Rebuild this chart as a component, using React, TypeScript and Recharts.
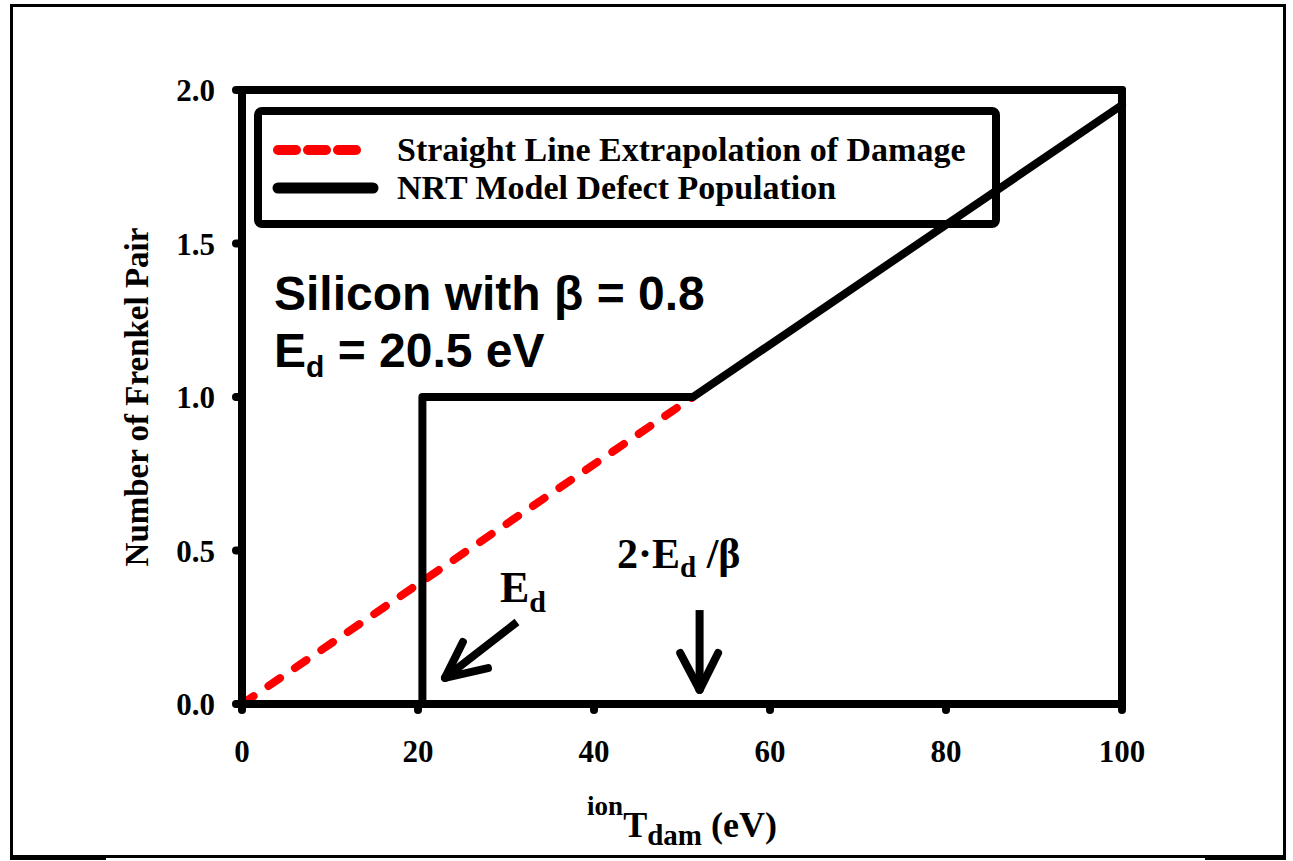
import React from 'react';
import { LineChart, Line, XAxis, YAxis, ReferenceLine } from 'recharts';

const serif = '"Liberation Serif", "Times New Roman", serif';
const sans = '"Liberation Sans", Arial, sans-serif';

// NRT model: zero below Ed, one pair up to 2Ed/beta, then beta*T/(2Ed)
const nrtEnergy = [0, 20.5, 20.5, 51.25, 100];
const nrtPairs = [0, 0, 1, 1, 1.951];

// straight line extrapolation through the origin
const extrapEnergy = [0, 51.25];
const extrapPairs = [0, 1];

const energyTicks = [0, 20, 40, 60, 80, 100];
const pairTicks = [0, 0.5, 1.0, 1.5, 2.0];

const nrtData = nrtEnergy.map((energy, i) => ({ energy, pairs: nrtPairs[i] }));
const extrapData = extrapEnergy.map((energy, i) => ({ energy, pairs: extrapPairs[i] }));

// arrows pointing at Ed and 2Ed/beta (data coordinates)
const edArrow = [
  { x: 31.25, y: 0.267 },
  { x: 23.07, y: 0.085 },
];
const edHead = [
  { x: 25.1, y: 0.202 },
  { x: 23.07, y: 0.085 },
  { x: 27.95, y: 0.117 },
];
const nrtArrow = [
  { x: 52, y: 0.306 },
  { x: 52, y: 0.046 },
];
const nrtHead = [
  { x: 49.8, y: 0.166 },
  { x: 52, y: 0.046 },
  { x: 54.1, y: 0.166 },
];

const legendItems = [
  { name: 'Straight Line Extrapolation of Damage', color: '#ff0000', dash: true },
  { name: 'NRT Model Defect Population', color: '#000000', dash: false },
];

const tickStyle = { fill: '#000', fontSize: 31, fontWeight: 'bold', fontFamily: serif };

const App = () => {
  return (
    <div style={{ position: 'absolute', left: 0, top: 0, width: 1293, height: 861, background: '#fff' }}>
      <div
        style={{
          position: 'absolute',
          left: 10,
          top: 4,
          width: 1276,
          height: 854,
          border: '3px solid #000',
          boxSizing: 'border-box',
        }}
      />
      <div style={{ position: 'absolute', left: 10, top: 855, width: 96, height: 5, background: '#000' }} />
      <div style={{ position: 'absolute', left: 1205, top: 855, width: 81, height: 5, background: '#000' }} />
      <LineChart
        width={1293}
        height={861}
        margin={{ top: 90, right: 171, bottom: 97, left: 182 }}
        style={{ position: 'absolute', left: 0, top: 0 }}
      >
        <XAxis
          dataKey="energy"
          type="number"
          domain={[0, 100]}
          ticks={energyTicks}
          height={60}
          tick={tickStyle}
          tickSize={6}
          tickMargin={30}
          axisLine={{ stroke: '#000', strokeWidth: 8, strokeLinecap: 'round' }}
          tickLine={{ stroke: '#000', strokeWidth: 8, strokeLinecap: 'round' }}
        />
        <YAxis
          type="number"
          domain={[0, 2]}
          ticks={pairTicks}
          width={60}
          tick={tickStyle}
          tickFormatter={(v: number) => v.toFixed(1)}
          tickSize={6}
          tickMargin={21}
          axisLine={{ stroke: '#000', strokeWidth: 8, strokeLinecap: 'round' }}
          tickLine={{ stroke: '#000', strokeWidth: 8, strokeLinecap: 'round' }}
        />
        <ReferenceLine y={2} stroke="#000" strokeWidth={8} strokeLinecap="round" />
        <ReferenceLine x={100} stroke="#000" strokeWidth={8} strokeLinecap="round" />

        <Line
          data={extrapData}
          dataKey="pairs"
          type="linear"
          stroke="#ff0000"
          strokeWidth={8}
          strokeDasharray="14 18"
          strokeLinecap="round"
          dot={false}
          isAnimationActive={false}
        />
        <Line
          data={nrtData}
          dataKey="pairs"
          type="linear"
          stroke="#000"
          strokeWidth={8}
          strokeLinejoin="round"
          strokeLinecap="round"
          dot={false}
          isAnimationActive={false}
        />

        <ReferenceLine segment={edArrow} stroke="#000" strokeWidth={8} />
        <ReferenceLine segment={[edHead[0], edHead[1]]} stroke="#000" strokeWidth={8} strokeLinecap="round" />
        <ReferenceLine segment={[edHead[1], edHead[2]]} stroke="#000" strokeWidth={8} strokeLinecap="round" />
        <ReferenceLine segment={nrtArrow} stroke="#000" strokeWidth={8} />
        <ReferenceLine segment={[nrtHead[0], nrtHead[1]]} stroke="#000" strokeWidth={8} strokeLinecap="round" />
        <ReferenceLine segment={[nrtHead[1], nrtHead[2]]} stroke="#000" strokeWidth={8} strokeLinecap="round" />

        {/* legend box */}
        <rect x={258} y={111} width={738} height={113} rx={4} fill="#fff" stroke="#000" strokeWidth={8} />
        {legendItems.map((item, i) => (
          <g key={item.name}>
            <line
              x1={278}
              x2={item.dash ? 358 : 373}
              y1={150 + i * 38}
              y2={150 + i * 38}
              stroke={item.color}
              strokeWidth={item.dash ? 10 : 11}
              strokeDasharray={item.dash ? '18 12' : undefined}
              strokeLinecap="round"
            />
            <text x={397} y={161 + i * 38} fontFamily={serif} fontWeight="bold" fontSize={34} fill="#000">
              {item.name}
            </text>
          </g>
        ))}

        <text x={274} y={310} fontFamily={sans} fontWeight="bold" fontSize={48} fill="#000">
          Silicon with β = 0.8
        </text>
        <text x={274} y={367} fontFamily={sans} fontWeight="bold" fontSize={48} fill="#000">
          E<tspan fontSize={30} dy={10}>d</tspan>
          <tspan dy={-10}> = 20.5 eV</tspan>
        </text>

        <text x={500} y={602} fontFamily={serif} fontWeight="bold" fontSize={44} fill="#000">
          E<tspan fontSize={30} dy={10}>d</tspan>
        </text>
        <text x={617} y={568} fontFamily={serif} fontWeight="bold" fontSize={42} fill="#000">
          2·E<tspan fontSize={29} dy={9}>d</tspan>
          <tspan dy={-9}> /β</tspan>
        </text>

        <text
          x={137}
          y={397}
          transform="rotate(-90 137 397)"
          textAnchor="middle"
          dominantBaseline="central"
          fontFamily={serif}
          fontWeight="bold"
          fontSize={33}
          fill="#000"
        >
          Number of Frenkel Pair
        </text>
        <text x={682} y={837} textAnchor="middle" fontFamily={serif} fontWeight="bold" fontSize={36} fill="#000">
          <tspan fontSize={27} dy={-22}>ion</tspan>
          <tspan dy={22}>T</tspan>
          <tspan fontSize={29} dy={8}>dam</tspan>
          <tspan dy={-8}> (eV)</tspan>
        </text>
      </LineChart>
    </div>
  );
};

export default App;
